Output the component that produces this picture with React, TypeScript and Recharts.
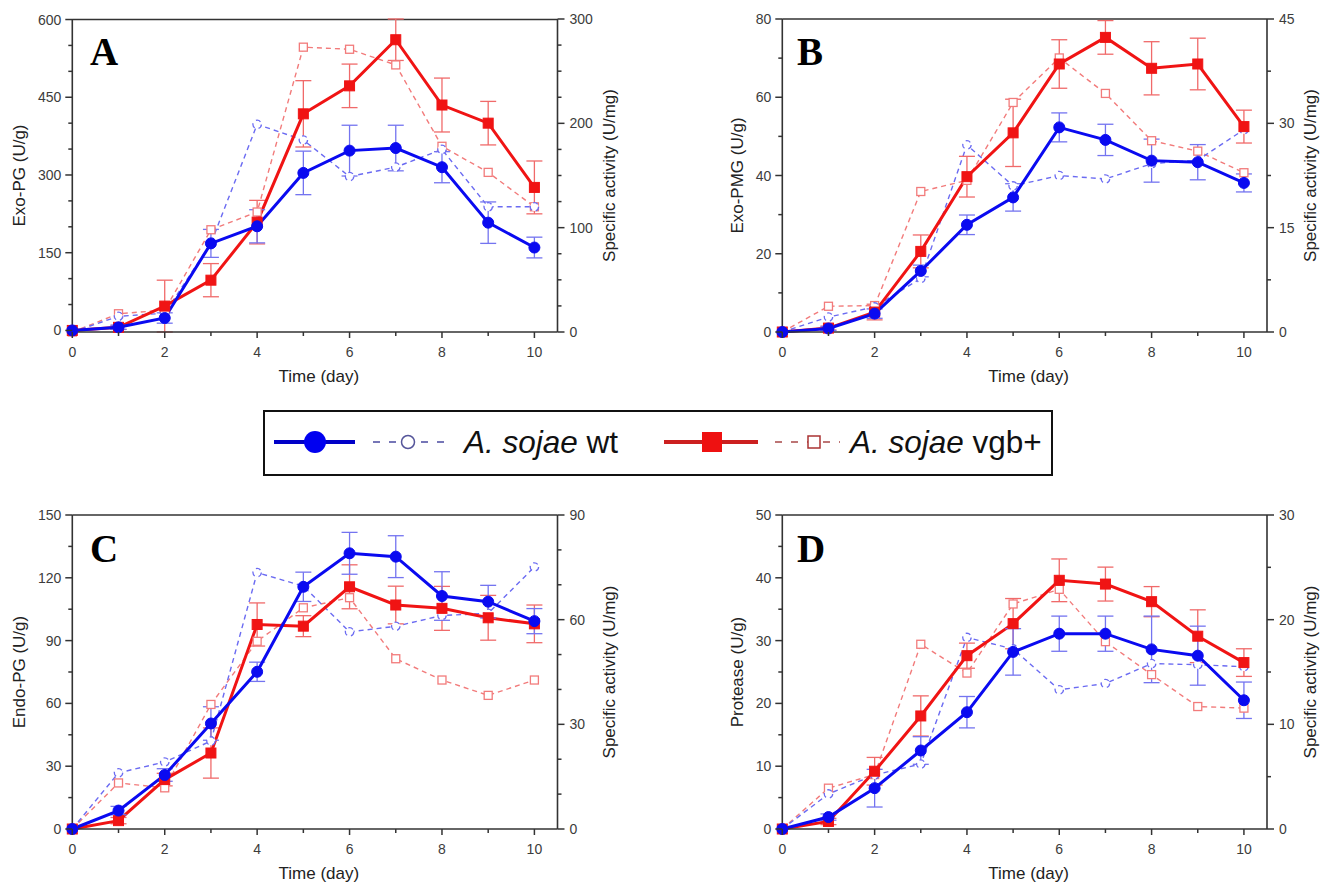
import React from 'react';
import { LineChart, Line, XAxis, YAxis, ErrorBar, ReferenceLine, Label } from 'recharts';

const days = [0, 1, 2, 3, 4, 5, 6, 7, 8, 9, 10];
const dayTicks = [0, 1, 2, 3, 4, 5, 6, 7, 8, 9, 10];

// A – Exo-PG
const exoPgWt = [0, 6, 24, 168, 201, 304, 347, 352, 315, 208, 160];
const exoPgWtErr = [0, 4, 10, 27, 32, 42, 49, 44, 30, 40, 20];
const exoPgVgb = [0, 6, 47, 97, 209, 418, 472, 561, 435, 400, 276];
const exoPgVgbErr = [0, 4, 50, 32, 42, 64, 42, 40, 52, 42, 51];
const exoPgWtSpec = [0, 15, 18, 85, 199, 184, 149, 158, 175, 120, 120];
const exoPgVgbSpec = [0, 17.5, 21, 98, 115, 273, 271, 256, 178, 153, 120];
const exoPgTicks = [0, 50, 100, 150, 200, 250, 300, 350, 400, 450, 500, 550, 600];
const exoPgSpecTicks = [0, 25, 50, 75, 100, 125, 150, 175, 200, 225, 250, 275, 300];

// B – Exo-PMG
const exoPmgWt = [0, 0.9, 4.7, 15.6, 27.4, 34.4, 52.3, 49.1, 43.8, 43.4, 38.1];
const exoPmgWtErr = [0, 0.5, 1.2, 1.5, 2.5, 3.5, 3.7, 4, 5.5, 4.5, 2.3];
const exoPmgVgb = [0, 1, 5.1, 20.6, 39.7, 50.9, 68.5, 75.3, 67.4, 68.5, 52.5];
const exoPmgVgbErr = [0, 0.5, 2, 4.2, 5.2, 8.6, 6.2, 4.3, 6.8, 6.6, 4.2];
const exoPmgWtSpec = [0, 2.15, 3.6, 7.7, 26.9, 21, 22.5, 22, 24.2, 24.7, 29.1];
const exoPmgVgbSpec = [0, 3.7, 3.8, 20.2, 21.8, 33, 39.4, 34.3, 27.5, 26, 22.9];
const exoPmgTicks = [0, 10, 20, 30, 40, 50, 60, 70, 80];
const exoPmgSpecTicks = [0, 7.5, 15, 22.5, 30, 37.5, 45];

// C – Endo-PG
const endoPgWt = [0, 8.8, 25.8, 50.4, 75.1, 115.7, 131.7, 130.1, 111.3, 108.6, 99.3];
const endoPgWtErr = [0, 2, 3, 8, 4.6, 7, 10, 10, 11.6, 7.8, 6];
const endoPgVgb = [0, 4, 23.6, 36.3, 97.7, 96.9, 115.7, 107, 105.4, 100.9, 98];
const endoPgVgbErr = [0, 1.5, 3, 12, 10.3, 5, 10.5, 9, 10.5, 10.7, 9];
const endoPgWtSpec = [0, 16.1, 19.2, 25.2, 73.5, 69.6, 56.5, 58.1, 61.2, 61.8, 75.1];
const endoPgVgbSpec = [0, 13.2, 11.8, 35.7, 53.8, 63.4, 66.3, 48.8, 42.7, 38.3, 42.7];
const endoPgTicks = [0, 15, 30, 45, 60, 75, 90, 105, 120, 135, 150];
const endoPgSpecTicks = [0, 10, 20, 30, 40, 50, 60, 70, 80, 90];

// D – Protease
const proteaseWt = [0, 1.9, 6.5, 12.5, 18.6, 28.2, 31.1, 31.1, 28.6, 27.6, 20.5];
const proteaseWtErr = [0, 0.5, 3, 2.2, 2.5, 3.7, 2.8, 2.8, 5.3, 4.7, 2.9];
const proteaseVgb = [0, 1.2, 9.2, 18, 27.6, 32.7, 39.6, 39, 36.2, 30.7, 26.5];
const proteaseVgbErr = [0, 0.5, 2.2, 3.2, 2, 4, 3.4, 2.7, 2.4, 4.2, 2.2];
const proteaseWtSpec = [0, 3.35, 5.17, 6.2, 18.3, 17.2, 13.3, 13.9, 15.8, 15.7, 15.5];
const proteaseVgbSpec = [0, 3.9, 5.2, 17.65, 14.9, 21.5, 22.9, 17.9, 14.75, 11.7, 11.55];
const proteaseTicks = [0, 5, 10, 15, 20, 25, 30, 35, 40, 45, 50];
const proteaseSpecTicks = [0, 5, 10, 15, 20, 25, 30];

const FONT = "Arial, 'Liberation Sans', Helvetica, sans-serif";
const SERIF = "'Times New Roman', 'Liberation Serif', serif";
const AXIS = '#333';
const TICK_TEXT = '#3c3c3c';
const BLUE = '#0a0af0';
const BLUE_L = '#6b6bf2';
const BLUE_E = '#7474f0';
const RED = '#f01414';
const RED_L = '#f27b7b';
const RED_E = '#f06a6a';

const isMajor = (v: number, every: number) => Math.abs(v / every - Math.round(v / every)) < 1e-6;

const leftTick = (every: number) => (props: any) => {
  const { x, y, payload } = props;
  const major = isMajor(payload.value, every);
  return (
    <g>
      <line x1={x} x2={x - (major ? 7 : 4)} y1={y} y2={y} stroke={AXIS} strokeWidth={1.5} />
      {major && (
        <text x={x - 11} y={y} dy={5} textAnchor="end" fontSize={14} fontFamily={FONT} fill={TICK_TEXT}>
          {payload.value}
        </text>
      )}
    </g>
  );
};

const rightTick = (every: number) => (props: any) => {
  const { x, y, payload } = props;
  const major = isMajor(payload.value, every);
  return (
    <g>
      <line x1={x} x2={x + (major ? 7 : 4)} y1={y} y2={y} stroke={AXIS} strokeWidth={1.5} />
      {major && (
        <text x={x + 12} y={y} dy={5} textAnchor="start" fontSize={14} fontFamily={FONT} fill={TICK_TEXT}>
          {payload.value}
        </text>
      )}
    </g>
  );
};

const bottomTick = (props: any) => {
  const { x, y, payload } = props;
  const major = isMajor(payload.value, 2);
  return (
    <g>
      <line x1={x} x2={x} y1={y} y2={y + (major ? 6 : 4)} stroke={AXIS} strokeWidth={1.5} />
      {major && (
        <text x={x} y={y + 25} textAnchor="middle" fontSize={14} fontFamily={FONT} fill={TICK_TEXT}>
          {payload.value}
        </text>
      )}
    </g>
  );
};

const squareDot = (size: number, fill: string, stroke: string, sw: number) => (props: any) => {
  const { cx, cy, index } = props;
  if (cx == null || cy == null) return <g key={`s-${index}`} />;
  return (
    <rect
      key={`s-${index}`}
      x={cx - size / 2}
      y={cy - size / 2}
      width={size}
      height={size}
      fill={fill}
      stroke={stroke}
      strokeWidth={sw}
    />
  );
};

type PanelProps = {
  left: number;
  top: number;
  width: number;
  height: number;
  marginRight: number;
  leftW: number;
  yLabel: string;
  yLabelOffset: number;
  specLabelOffset: number;
  yMax: number;
  yTicks: number[];
  yMajor: number;
  specMax: number;
  specTicks: number[];
  specMajor: number;
  wt: number[];
  wtErr: number[];
  vgb: number[];
  vgbErr: number[];
  wtSpec: number[];
  vgbSpec: number[];
};

function Panel(p: PanelProps) {
  const data = days.map((d, i) => ({
    day: d,
    wt: p.wt[i],
    wtErr: p.wtErr[i],
    vgb: p.vgb[i],
    vgbErr: p.vgbErr[i],
    wtSpec: p.wtSpec[i],
    vgbSpec: p.vgbSpec[i],
  }));
  const labelStyle = { fontSize: 17, fontFamily: FONT, fill: '#222', textAnchor: 'middle' as const };
  return (
    <div style={{ position: 'absolute', left: p.left, top: p.top }}>
      <LineChart
        width={p.width}
        height={p.height}
        data={data}
        margin={{ top: 19, right: p.marginRight, bottom: 0, left: 0 }}
      >
        <XAxis
          dataKey="day"
          type="number"
          domain={[0, 10.5]}
          ticks={dayTicks}
          interval={0}
          tickSize={0}
          tickMargin={0}
          tickLine={false}
          tick={bottomTick}
          axisLine={{ stroke: AXIS, strokeWidth: 1.6 }}
          height={68}
        >
          <Label value="Time (day)" position="insideTop" offset={38} dx={4} style={labelStyle} />
        </XAxis>
        <YAxis
          yAxisId="left"
          orientation="left"
          type="number"
          domain={[0, p.yMax]}
          ticks={p.yTicks}
          interval={0}
          width={p.leftW}
          tickSize={0}
          tickMargin={0}
          tickLine={false}
          tick={leftTick(p.yMajor)}
          axisLine={{ stroke: AXIS, strokeWidth: 1.6 }}
        >
          <Label value={p.yLabel} angle={-90} position="insideLeft" offset={p.yLabelOffset} style={labelStyle} />
        </YAxis>
        <YAxis
          yAxisId="right"
          orientation="right"
          type="number"
          domain={[0, p.specMax]}
          ticks={p.specTicks}
          interval={0}
          width={60}
          tickSize={0}
          tickMargin={0}
          tickLine={false}
          tick={rightTick(p.specMajor)}
          axisLine={{ stroke: AXIS, strokeWidth: 1.6 }}
        >
          <Label
            value="Specific activity (U/mg)"
            angle={-90}
            position="insideRight"
            offset={p.specLabelOffset}
            style={labelStyle}
          />
        </YAxis>
        <ReferenceLine yAxisId="left" y={p.yMax} stroke={AXIS} strokeWidth={1.6} />

        <Line
          yAxisId="right"
          dataKey="vgbSpec"
          type="linear"
          stroke={RED_L}
          strokeWidth={1.4}
          strokeDasharray="5 4"
          dot={squareDot(8, '#fff', RED_L, 1.3)}
          activeDot={false}
          isAnimationActive={false}
        />
        <Line
          yAxisId="right"
          dataKey="wtSpec"
          type="linear"
          stroke={BLUE_L}
          strokeWidth={1.4}
          strokeDasharray="5 4"
          dot={{ r: 4.2, fill: '#fff', stroke: BLUE_L, strokeWidth: 1.3 }}
          activeDot={false}
          isAnimationActive={false}
        />
        <Line
          yAxisId="left"
          dataKey="vgb"
          type="linear"
          stroke={RED}
          strokeWidth={3}
          dot={squareDot(10, RED, RED, 1)}
          activeDot={false}
          isAnimationActive={false}
        >
          <ErrorBar dataKey="vgbErr" direction="y" width={8} stroke={RED_E} strokeWidth={1.3} />
        </Line>
        <Line
          yAxisId="left"
          dataKey="wt"
          type="linear"
          stroke={BLUE}
          strokeWidth={3}
          dot={{ r: 5.5, fill: BLUE, stroke: BLUE, strokeWidth: 1 }}
          activeDot={false}
          isAnimationActive={false}
        >
          <ErrorBar dataKey="wtErr" direction="y" width={8} stroke={BLUE_E} strokeWidth={1.3} />
        </Line>
      </LineChart>
    </div>
  );
}

function Overlay() {
  const letterStyle = { fontFamily: SERIF, fontWeight: 700, fontSize: 39, fill: '#000' };
  const lx = 263;
  const ly = 410;
  return (
    <svg
      width={1333}
      height={885}
      style={{ position: 'absolute', left: 0, top: 0, pointerEvents: 'none' }}
    >
      <text x={90} y={65} style={letterStyle}>A</text>
      <text x={797} y={65} style={letterStyle}>B</text>
      <text x={90} y={562} style={letterStyle}>C</text>
      <text x={797} y={562} style={letterStyle}>D</text>

      <g transform={`translate(${lx},${ly})`}>
        <rect x={1} y={1} width={788} height={64} fill="#fff" stroke="#111" strokeWidth={2} />
        <line x1={11} x2={92} y1={32} y2={32} stroke="#0000c8" strokeWidth={4} />
        <circle cx={52} cy={32} r={11} fill="#0000f0" />
        <line x1={110} x2={185} y1={32} y2={32} stroke="#4a4aa0" strokeWidth={1.5} strokeDasharray="7 9" />
        <circle cx={145} cy={32} r={6.5} fill="#fff" stroke="#55559a" strokeWidth={1.5} />
        <text x={201} y={43} fontFamily={FONT} fontSize={31.5} fill="#111">
          <tspan fontStyle="italic">A. sojae</tspan>
          <tspan> wt</tspan>
        </text>

        <line x1={401} x2={495} y1={32} y2={32} stroke="#cc2020" strokeWidth={4} />
        <rect x={439} y={22} width={20} height={20} fill="#ee1111" />
        <line x1={512} x2={577} y1={32} y2={32} stroke="#a84848" strokeWidth={1.5} strokeDasharray="7 9" />
        <rect x={545} y={26} width={12} height={12} fill="#fff" stroke="#aa3333" strokeWidth={1.5} />
        <text x={587} y={43} fontFamily={FONT} fontSize={31.5} fill="#111">
          <tspan fontStyle="italic">A. sojae</tspan>
          <tspan> vgb+</tspan>
        </text>
      </g>
    </svg>
  );
}

export default function App() {
  const leftCol = { left: 0, width: 660, marginRight: 42.5, leftW: 72.3, yLabelOffset: 19, specLabelOffset: 8.5 };
  const rightCol = { left: 710, width: 623, marginRight: 6, leftW: 72.3, yLabelOffset: 27, specLabelOffset: 17 };
  return (
    <div
      style={{
        position: 'absolute',
        left: 0,
        top: 0,
        width: 1333,
        height: 885,
        background: '#fff',
        overflow: 'hidden',
      }}
    >
      <Panel
        {...leftCol}
        top={0}
        height={400}
        yLabel="Exo-PG (U/g)"
        yMax={600}
        yTicks={exoPgTicks}
        yMajor={150}
        specMax={300}
        specTicks={exoPgSpecTicks}
        specMajor={100}
        wt={exoPgWt}
        wtErr={exoPgWtErr}
        vgb={exoPgVgb}
        vgbErr={exoPgVgbErr}
        wtSpec={exoPgWtSpec}
        vgbSpec={exoPgVgbSpec}
      />
      <Panel
        {...rightCol}
        top={0}
        height={400}
        yLabel="Exo-PMG (U/g)"
        yMax={80}
        yTicks={exoPmgTicks}
        yMajor={20}
        specMax={45}
        specTicks={exoPmgSpecTicks}
        specMajor={15}
        wt={exoPmgWt}
        wtErr={exoPmgWtErr}
        vgb={exoPmgVgb}
        vgbErr={exoPmgVgbErr}
        wtSpec={exoPmgWtSpec}
        vgbSpec={exoPmgVgbSpec}
      />
      <Panel
        {...leftCol}
        top={496}
        height={401}
        yLabel="Endo-PG (U/g)"
        yMax={150}
        yTicks={endoPgTicks}
        yMajor={30}
        specMax={90}
        specTicks={endoPgSpecTicks}
        specMajor={30}
        wt={endoPgWt}
        wtErr={endoPgWtErr}
        vgb={endoPgVgb}
        vgbErr={endoPgVgbErr}
        wtSpec={endoPgWtSpec}
        vgbSpec={endoPgVgbSpec}
      />
      <Panel
        {...rightCol}
        top={496}
        height={401}
        yLabel="Protease (U/g)"
        yMax={50}
        yTicks={proteaseTicks}
        yMajor={10}
        specMax={30}
        specTicks={proteaseSpecTicks}
        specMajor={10}
        wt={proteaseWt}
        wtErr={proteaseWtErr}
        vgb={proteaseVgb}
        vgbErr={proteaseVgbErr}
        wtSpec={proteaseWtSpec}
        vgbSpec={proteaseVgbSpec}
      />
      <Overlay />
    </div>
  );
}
